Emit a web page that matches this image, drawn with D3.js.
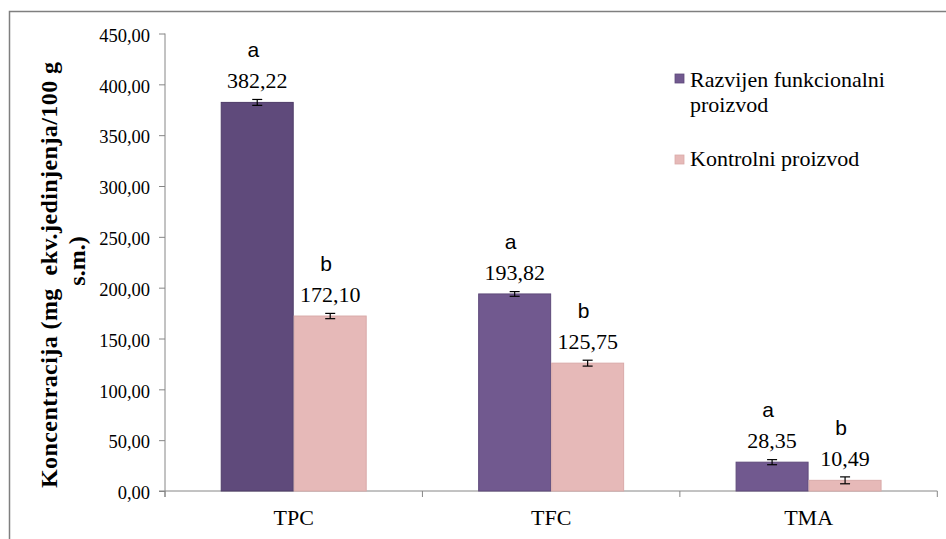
<!DOCTYPE html>
<html>
<head>
<meta charset="utf-8">
<script src="https://cdn.jsdelivr.net/npm/d3@7"></script>
<style>
  html, body { margin: 0; padding: 0; background: #fff; }
  svg { display: block; }
</style>
</head>
<body>
<svg id="chart" width="946" height="539"></svg>
<script>
// Categories and series
const categories = ["TPC", "TFC", "TMA"];
const seriesNames = ["Razvijen funkcionalni proizvod", "Kontrolni proizvod"];
const developedValues = [382.22, 193.82, 28.35];
const controlValues = [172.10, 125.75, 10.49];
const developedErrors = [2.9, 2.3, 2.5];
const controlErrors = [2.6, 2.9, 3.4];
const developedLetters = ["a", "a", "a"];
const controlLetters = ["b", "b", "b"];
const yTicks = [0, 50, 100, 150, 200, 250, 300, 350, 400, 450];

// Fill colours (the first developed bar is a darker shade)
const developedFills = ["#5f4a7b", "#71598f", "#71598f"];
const developedStrokes = ["#4e3c68", "#5f4a7b", "#5f4a7b"];
const controlFill = "#e6b9b8";
const controlStroke = "#d9aaa9";
const axisColor = "#868686";

const svg = d3.select("#chart");
const serif = "'Liberation Serif', serif";
const sans = "'Liberation Sans', sans-serif";

// Outer frame
svg.append("rect")
  .attr("x", 9.5).attr("y", 11.5)
  .attr("width", 1000).attr("height", 1000)
  .attr("fill", "none")
  .attr("stroke", "#7f7f7f")
  .attr("stroke-width", 1.5);

const plotLeft = 165, plotRight = 937.3, plotTop = 33.5, plotBottom = 491;

const y = d3.scaleLinear().domain([0, 450]).range([plotBottom, plotTop]);
const pad = 0.433;
const x = d3.scaleBand().domain(categories).range([plotLeft, plotRight])
  .paddingInner(pad).paddingOuter(pad / 2);
const xs = d3.scaleBand().domain(seriesNames).range([0, x.bandwidth()]);

const fmt = v => d3.format(".2f")(v).replace(".", ",");

// Y axis
const yAxis = svg.append("g")
  .attr("transform", `translate(${plotLeft},0)`)
  .call(d3.axisLeft(y).tickValues(yTicks).tickSize(6).tickSizeOuter(0).tickFormat(fmt));
yAxis.select(".domain").attr("stroke", axisColor).attr("d", `M0,${plotTop}V${plotBottom + 6}`);
yAxis.selectAll(".tick line").attr("stroke", axisColor);
yAxis.selectAll(".tick text")
  .attr("x", -15).attr("dy", "0.42em")
  .style("font-family", serif).style("font-size", "18.5px").attr("fill", "#000");

// X axis line and category boundary ticks
const xg = svg.append("g");
xg.append("line")
  .attr("x1", plotLeft - 6).attr("x2", plotRight)
  .attr("y1", plotBottom).attr("y2", plotBottom)
  .attr("stroke", axisColor);
const bounds = d3.range(categories.length + 1).map(i => plotLeft + i * x.step());
xg.selectAll("line.b").data(bounds).join("line")
  .attr("class", "b")
  .attr("x1", d => d).attr("x2", d => d)
  .attr("y1", plotBottom).attr("y2", plotBottom + 6)
  .attr("stroke", axisColor);
xg.selectAll("text").data(categories).join("text")
  .attr("x", d => x(d) + x.bandwidth() / 2)
  .attr("y", 525)
  .attr("text-anchor", "middle")
  .style("font-family", serif).style("font-size", "22px")
  .text(d => d);

// Bar records built from the arrays
const rows = [];
categories.forEach((c, i) => {
  rows.push({ cat: c, s: seriesNames[0], v: developedValues[i], e: developedErrors[i],
              letter: developedLetters[i], fill: developedFills[i], stroke: developedStrokes[i] });
  rows.push({ cat: c, s: seriesNames[1], v: controlValues[i], e: controlErrors[i],
              letter: controlLetters[i], fill: controlFill, stroke: controlStroke });
});
const bx = d => x(d.cat) + xs(d.s);
const bw = xs.bandwidth();

svg.append("g").selectAll("rect").data(rows).join("rect")
  .attr("x", d => bx(d) + 0.5)
  .attr("y", d => y(d.v))
  .attr("width", bw - 1)
  .attr("height", d => y(0) - y(d.v))
  .attr("fill", d => d.fill)
  .attr("stroke", d => d.stroke)
  .attr("stroke-width", 1);

// Error bars
const eg = svg.append("g").attr("stroke", "#000").attr("stroke-width", 1.2);
rows.forEach(d => {
  const cx = bx(d) + bw / 2;
  eg.append("line").attr("x1", cx).attr("x2", cx).attr("y1", y(d.v + d.e)).attr("y2", y(d.v - d.e));
  eg.append("line").attr("x1", cx - 5).attr("x2", cx + 5).attr("y1", y(d.v + d.e)).attr("y2", y(d.v + d.e));
  eg.append("line").attr("x1", cx - 5).attr("x2", cx + 5).attr("y1", y(d.v - d.e)).attr("y2", y(d.v - d.e));
});

// Value labels and significance letters
const lg = svg.append("g");
lg.selectAll("text.val").data(rows).join("text")
  .attr("class", "val")
  .attr("x", d => bx(d) + bw / 2)
  .attr("y", d => y(d.v) - 14)
  .attr("text-anchor", "middle")
  .style("font-family", serif).style("font-size", "22px")
  .text(d => fmt(d.v));
lg.selectAll("text.let").data(rows).join("text")
  .attr("class", "let")
  .attr("x", d => bx(d) + bw / 2 - 4)
  .attr("y", d => y(d.v) - 45)
  .attr("text-anchor", "middle")
  .style("font-family", sans).style("font-size", "21px")
  .text(d => d.letter);

// Y axis title (two lines)
const titleStyle = t => t.style("font-family", serif).style("font-size", "24px").style("font-weight", "bold")
  .style("white-space", "pre").attr("text-anchor", "middle");
svg.append("text")
  .attr("transform", "translate(57,275) rotate(-90)")
  .call(titleStyle)
  .attr("textLength", 426).attr("lengthAdjust", "spacing")
  .text("Koncentracija (mg  ekv.jedinjenja/100 g");
svg.append("text")
  .attr("transform", "translate(85,261) rotate(-90)")
  .call(titleStyle)
  .text("s.m.)");

// Legend
const legText = t => t.style("font-family", serif).style("font-size", "22px");
const leg = svg.append("g");
leg.append("rect").attr("x", 675).attr("y", 74).attr("width", 9).attr("height", 9)
  .attr("fill", developedFills[1]).attr("stroke", developedStrokes[1]).attr("stroke-width", 0.8);
leg.append("text").attr("x", 690).attr("y", 86.5).call(legText).text("Razvijen funkcionalni");
leg.append("text").attr("x", 690).attr("y", 112).call(legText).text("proizvod");
leg.append("rect").attr("x", 675).attr("y", 155).attr("width", 9).attr("height", 9)
  .attr("fill", controlFill).attr("stroke", controlStroke).attr("stroke-width", 0.8);
leg.append("text").attr("x", 690).attr("y", 166).call(legText).text(seriesNames[1]);
</script>
</body>
</html>
